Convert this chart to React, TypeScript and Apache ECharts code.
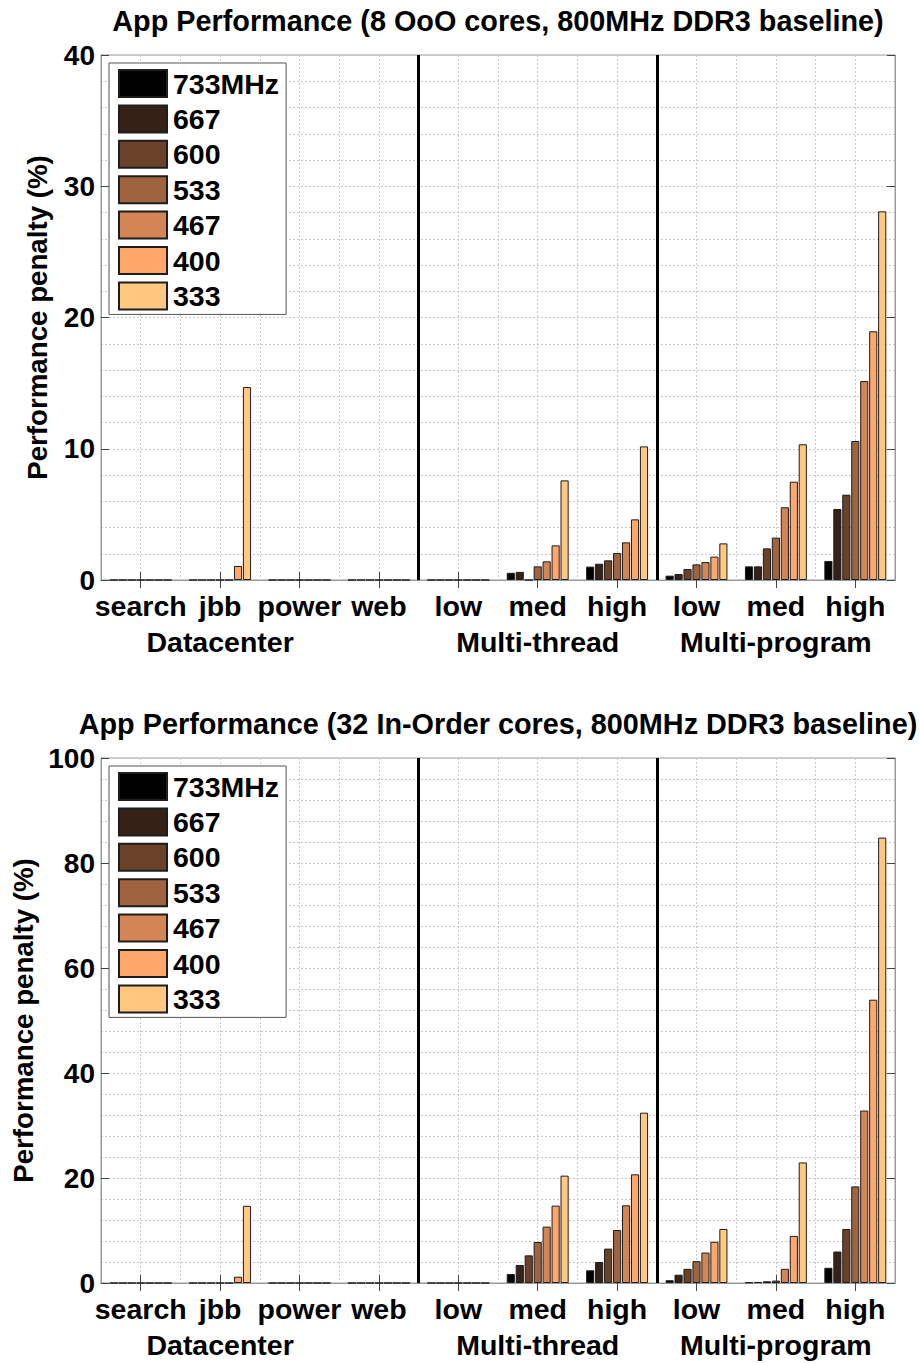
import React, { useEffect, useRef } from "react";
import * as echarts from "echarts";

const categories = ["search", "jbb", "power", "web", "low", "med", "high", "low", "med", "high"];
const groupLine = ["", "Datacenter", "", "", "", "Multi-thread", "", "", "Multi-program", ""];
const groupSizes = [4, 3, 3];
const seriesNames = ["733MHz", "667", "600", "533", "467", "400", "333"];
const seriesColors = ["#000000", "#352115", "#6a422a", "#9f643f", "#d48555", "#ffa66a", "#ffc77f"];

const topTitle = "App Performance (8 OoO cores, 800MHz DDR3 baseline)";
const topMax = 40;
const topInterval = 10;
const topValues = [
  [0, 0, 0, 0, 0, 0.55, 1.02, 0.33, 1.04, 1.45],
  [0, 0, 0, 0, 0, 0.62, 1.24, 0.46, 1.04, 5.41],
  [0, 0, 0, 0, 0, 0, 1.5, 0.84, 2.41, 6.5],
  [0, 0, 0, 0, 0, 1.04, 2.06, 1.19, 3.23, 10.59],
  [0, 0, 0, 0, 0, 1.42, 2.87, 1.37, 5.54, 15.16],
  [0, 1.07, 0, 0, 0, 2.64, 4.62, 1.78, 7.49, 18.95],
  [0, 14.7, 0, 0, 0, 7.59, 10.18, 2.79, 10.34, 28.09],
];

const bottomTitle = "App Performance (32 In-Order cores, 800MHz DDR3 baseline)";
const bottomMax = 100;
const bottomInterval = 20;
const bottomValues = [
  [0, 0, 0, 0, 0, 1.71, 2.42, 0.53, 0.13, 2.9],
  [0, 0, 0, 0, 0, 3.43, 4.0, 1.58, 0.2, 6.0],
  [0, 0, 0, 0, 0, 5.27, 6.55, 2.7, 0.33, 10.29],
  [0, 0, 0, 0, 0, 7.81, 10.1, 4.16, 0.46, 18.4],
  [0, 0, 0, 0, 0, 10.73, 14.8, 5.8, 2.7, 32.85],
  [0, 1.2, 0, 0, 0, 14.74, 20.7, 7.85, 8.97, 53.96],
  [0, 14.7, 0, 0, 0, 20.45, 32.44, 10.29, 22.96, 84.83],
];

const yName = "Performance penalty (%)";
const FONT = '"Liberation Sans", Arial, sans-serif';

export default function App() {
  const ref = useRef<HTMLDivElement>(null);
  useEffect(() => {
    const chart = echarts.init(ref.current!, null, { renderer: "svg" });
    const panels = [
      { title: topTitle, max: topMax, interval: topInterval, values: topValues, top: 55 },
      { title: bottomTitle, max: bottomMax, interval: bottomInterval, values: bottomValues, top: 758 },
    ];
    const plotLeft = 101;
    const plotWidth = 794;
    const plotHeight = 525;
    const nCat = categories.length;
    const sepPositions: number[] = [];
    let acc = 0;
    groupSizes.slice(0, -1).forEach((g) => {
      acc += g;
      sepPositions.push(acc * 2);
    });

    const grid: any[] = [];
    const xAxis: any[] = [];
    const yAxis: any[] = [];
    const series: any[] = [];
    const legend: any[] = [];
    const graphic: any[] = [];
    const gridLine = { lineStyle: { color: "#c8c8c8", type: [2, 2], width: 1 } };

    panels.forEach((p, i) => {
      grid.push({
        left: plotLeft,
        top: p.top,
        width: plotWidth,
        height: plotHeight,
        show: true,
        borderColor: "#9a9a9a",
        borderWidth: 1,
        backgroundColor: "transparent",
      });
      xAxis.push({
        type: "category",
        gridIndex: i,
        position: "bottom",
        data: categories,
        axisLine: { show: true, lineStyle: { color: "#9a9a9a", width: 1 } },
        axisTick: { show: true, inside: true, alignWithLabel: true, length: 8, lineStyle: { color: "#444" } },
        axisLabel: {
          interval: 0,
          margin: 8,
          color: "#000",
          fontSize: 28.5,
          fontWeight: "bold",
          fontFamily: FONT,
          lineHeight: 36,
          formatter: (v: string, idx: number) => (groupLine[idx] ? `${v}\n${groupLine[idx]}` : v),
        },
        splitLine: { show: false },
      });
      xAxis.push({
        type: "category",
        gridIndex: i,
        position: "top",
        data: categories,
        axisLine: { show: true, lineStyle: { color: "#9a9a9a", width: 1 } },
        axisTick: { show: true, inside: true, alignWithLabel: true, length: 8, lineStyle: { color: "#444" } },
        axisLabel: { show: false },
        splitLine: { show: false },
      });
      xAxis.push({
        type: "value",
        gridIndex: i,
        position: "bottom",
        min: 0,
        max: nCat * 2,
        interval: 1,
        axisLine: { show: false },
        axisTick: { show: false },
        axisLabel: { show: false },
        splitLine: { show: true, ...gridLine },
      });
      yAxis.push({
        type: "value",
        gridIndex: i,
        position: "left",
        min: 0,
        max: p.max,
        interval: p.interval,
        name: yName,
        nameLocation: "middle",
        nameRotate: 90,
        nameGap: 50,
        nameTextStyle: { color: "#000", fontSize: 27.7, fontWeight: "bold", fontFamily: FONT },
        axisLine: { show: true, lineStyle: { color: "#9a9a9a", width: 1 } },
        axisTick: { show: true, inside: true, length: 8, lineStyle: { color: "#444" } },
        axisLabel: { margin: 6, color: "#000", fontSize: 28, fontWeight: "bold", fontFamily: FONT },
        splitLine: { show: true, ...gridLine },
        minorTick: { show: false, splitNumber: 5 },
        minorSplitLine: { show: true, ...gridLine },
      });
      yAxis.push({
        type: "value",
        gridIndex: i,
        position: "right",
        min: 0,
        max: p.max,
        interval: p.interval,
        axisLine: { show: true, lineStyle: { color: "#9a9a9a", width: 1 } },
        axisTick: { show: true, inside: true, length: 8, lineStyle: { color: "#444" } },
        axisLabel: { show: false },
        splitLine: { show: false },
      });
      seriesNames.forEach((name, k) => {
        series.push({
          type: "bar",
          name,
          xAxisIndex: i * 3,
          yAxisIndex: i * 2,
          data: p.values[k],
          barGap: "10%",
          barCategoryGap: "22%",
          itemStyle: { color: seriesColors[k], borderColor: "#1e1e1e", borderWidth: 1 },
          emphasis: { disabled: true },
        });
      });
      series.push({
        type: "line",
        xAxisIndex: i * 3 + 2,
        yAxisIndex: i * 2,
        data: [],
        silent: true,
        markLine: {
          silent: true,
          symbol: ["none", "none"],
          label: { show: false },
          lineStyle: { color: "#000", width: 3, type: "solid" },
          data: sepPositions.map((x) => ({ xAxis: x })),
        },
      });
      legend.push({
        data: seriesNames,
        orient: "vertical",
        left: 109,
        top: p.top + 8,
        itemWidth: 48,
        itemHeight: 27,
        itemGap: 6.4,
        padding: [6, 7, 4, 9],
        backgroundColor: "#fff",
        borderColor: "#555",
        borderWidth: 1,
        borderRadius: 0,
        icon: "rect",
        selectedMode: false,
        textStyle: { color: "#000", fontSize: 28.5, lineHeight: 27, fontWeight: "bold", fontFamily: FONT, padding: [0, 0, 0, 1] },
      });
      graphic.push({
        type: "text",
        x: plotLeft + plotWidth / 2,
        y: p.top - 34,
        style: {
          text: p.title,
          fill: "#000",
          font: `bold 28.8px ${FONT}`,
          textAlign: "center",
          textVerticalAlign: "middle",
        },
      });
    });

    chart.setOption({
      animation: false,
      backgroundColor: "#fff",
      grid,
      xAxis,
      yAxis,
      series,
      legend,
      graphic,
    });
    return () => chart.dispose();
  }, []);
  return <div ref={ref} style={{ position: "absolute", left: 0, top: 0, width: 920, height: 1363 }} />;
}
